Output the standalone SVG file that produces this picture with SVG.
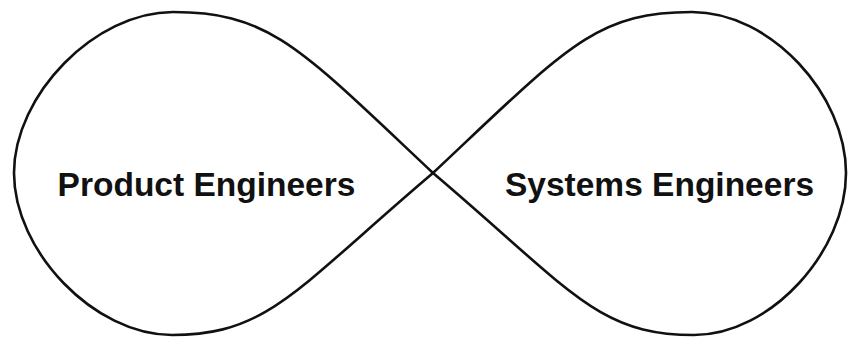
<svg xmlns="http://www.w3.org/2000/svg" width="848" height="341" viewBox="0 0 848 341">
<style>
.loop{fill:none;stroke:#111;stroke-width:2.6;}
.lbl{font-family:"Liberation Sans",Arial,sans-serif;font-weight:bold;font-size:33.5px;fill:#111;text-anchor:middle;}
</style>
<rect width="848" height="341" fill="#fff"/>
<g id="left-loop">
<path class="loop" d="M433,173 C300,48 270,12 173,12 C95,12 14,95 14,173 C14,251 94,335 172,335 C268,335 295,290 433,173"/>
<text class="lbl" x="206.5" y="196">Product Engineers</text>
</g>
<g id="right-loop">
<path class="loop" d="M433,173 C566,48 595,12 692,12 C771,12 846,95 846,173 C846,251 771,335 694,335 C597,335 571,290 433,173"/>
<text class="lbl" x="659.5" y="196">Systems Engineers</text>
</g>
<g id="connectors"></g>
</svg>
